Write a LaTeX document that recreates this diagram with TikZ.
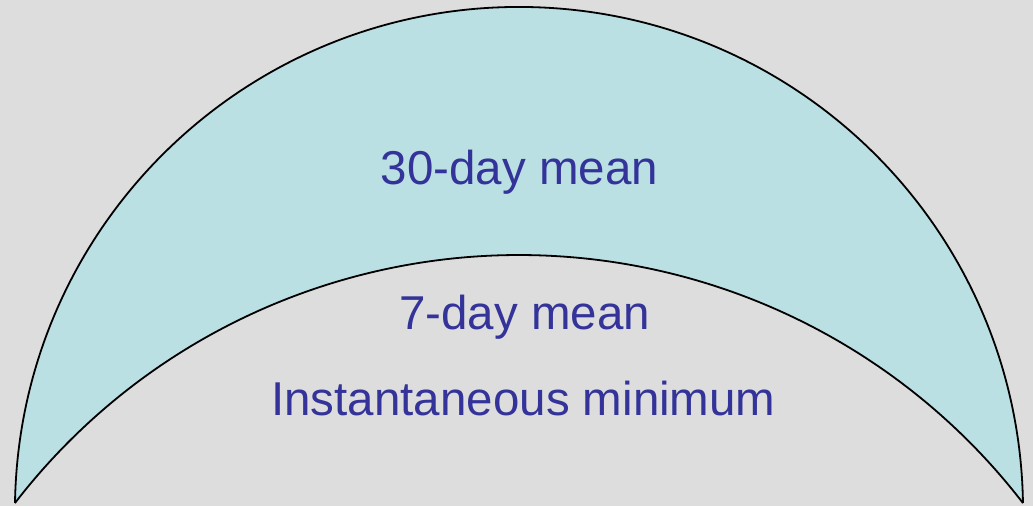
\documentclass[tikz,border=0pt]{standalone}
\usepackage{fontspec}
\setmainfont{Liberation Sans}
\definecolor{fondo}{HTML}{DDDDDD}
\definecolor{cian}{HTML}{BAE0E3}
\definecolor{texto}{HTML}{333399}
\begin{document}
\begin{tikzpicture}[x=1pt, y=1pt, line width=1.8pt, etiqueta/.style={anchor=base, text=texto, font=\fontsize{47.5}{52}\selectfont, inner sep=0pt}]
  % Fondo
  \fill[fondo] (0,0) rectangle (1033,506);
  \useasboundingbox (0,0) rectangle (1033,506);
  \coordinate (izq) at (15,3);
  \coordinate (der) at (1023,3);

  % Arcos
  \fill[cian] (izq) arc[start angle=179.09, end angle=0.91, radius=504.06] -- cycle;
  \fill[fondo] (izq) arc[start angle=142.4, end angle=37.6, radius=636.1] -- cycle;
  \draw (izq) arc[start angle=179.09, end angle=0.91, radius=504.06];
  \draw (izq) arc[start angle=142.4, end angle=37.6, radius=636.1];

  % Textos
  \node[etiqueta] (m30) at (519.5,321) {30-day mean};
  \node[etiqueta] (m7) at (524.5,176) {7-day mean};
  \node[etiqueta] (inst) at (523.5,90) {Instantaneous minimum};
\end{tikzpicture}
\end{document}
